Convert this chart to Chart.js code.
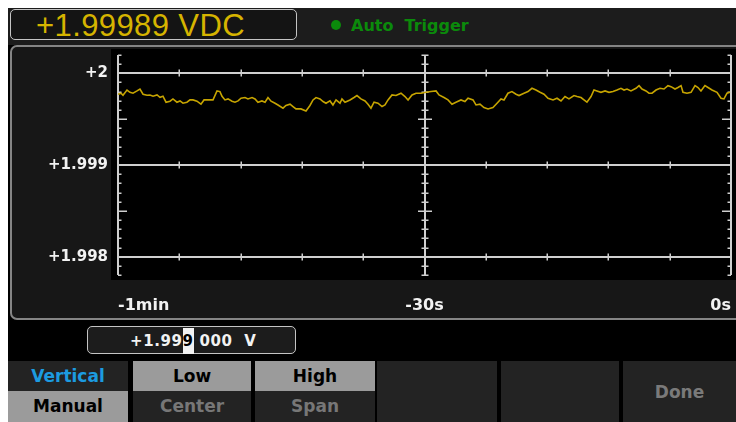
<!DOCTYPE html>
<html>
<head>
<meta charset="utf-8">
<script src="https://cdn.jsdelivr.net/npm/chart.js@4/dist/chart.umd.min.js"></script>
<style>
  html,body{margin:0;padding:0;}
  body{width:736px;height:422px;overflow:hidden;position:relative;background:#000;font-family:"DejaVu Sans",sans-serif;}
  .abs{position:absolute;}
  #header{left:0;top:0;width:736px;height:45px;background:#1c1c1c;}
  #reading{left:10px;top:9px;width:285px;height:29px;border:1.5px solid #c4c4c4;border-radius:5px;background:#141414;}
  #readingText{left:36px;top:9px;font-family:"Liberation Sans",Arial,sans-serif;font-size:31px;line-height:34px;color:#d6b400;white-space:pre;letter-spacing:0.4px;}
  #trig{left:331px;top:16px;font-weight:bold;font-size:16px;line-height:20px;color:#0b8a0b;white-space:pre;}
  #trig .dot{display:inline-block;width:10px;height:10px;border-radius:50%;background:#0b8a0b;margin-right:10px;vertical-align:1px;}
  #panel{left:10px;top:45px;width:740px;height:271px;border:2px solid #858585;border-radius:7px;background:#171717;}
  #plotbg{left:111px;top:49px;width:625px;height:231px;background:#000;}
  #inbox{left:87px;top:326px;width:207px;height:26px;border:1.5px solid #c4c4c4;border-radius:5px;background:#1c1c1c;}
  #inText{left:130px;top:328px;height:26px;font-weight:bold;font-size:15px;line-height:26px;color:#f2f2f2;white-space:pre;letter-spacing:0.6px;}
  #inText .cur{display:inline-block;background:#f2f2f2;color:#000;}
  .key{position:absolute;background:#232323;text-align:center;font-weight:bold;font-size:17px;white-space:pre;}
  .half{position:absolute;left:0;width:100%;height:30px;line-height:31px;}
  #white1{left:0;top:0;width:736px;height:8px;background:#fff;}
  #white2{left:0;top:0;width:8px;height:422px;background:#fff;}
  #chart{position:absolute;left:0;top:0;}
</style>
</head>
<body>
<div class="abs" id="header"></div>
<div class="abs" id="reading"></div>
<div class="abs" id="readingText">+1.99989 VDC</div>
<div class="abs" id="trig"><span class="dot"></span>Auto  Trigger</div>
<div class="abs" id="panel"></div>
<div class="abs" id="plotbg"></div>
<div class="abs" id="inbox"></div>
<div class="abs" id="inText">+1.99<span class="cur">9</span> 000  V</div>

<div class="key" style="left:8px;top:361px;width:120px;height:61px;">
  <div class="half" style="top:0;color:#1c9be0;background:#232323;">Vertical</div>
  <div class="half" style="top:30px;height:31px;color:#000;background:#9b9b9b;">Manual</div>
</div>
<div class="key" style="left:133px;top:361px;width:118px;height:61px;">
  <div class="half" style="top:0;color:#000;background:#9b9b9b;">Low</div>
  <div class="half" style="top:30px;height:31px;color:#777;background:#232323;">Center</div>
</div>
<div class="key" style="left:255px;top:361px;width:120px;height:61px;">
  <div class="half" style="top:0;color:#000;background:#9b9b9b;">High</div>
  <div class="half" style="top:30px;height:31px;color:#777;background:#232323;">Span</div>
</div>
<div class="key" style="left:377px;top:361px;width:120px;height:61px;"></div>
<div class="key" style="left:501px;top:361px;width:118px;height:61px;"></div>
<div class="key" style="left:623px;top:361px;width:113px;height:61px;line-height:62px;color:#7a7a7a;">Done</div>

<div class="abs" id="white1"></div>
<div class="abs" id="white2"></div>

<canvas id="chart" width="736" height="422"></canvas>

<script>
// ---- data ----
const timeSeconds = [
 -60.00,-59.71,-59.51,-59.12,-58.83,-58.53,-58.14,-57.85,-57.55,-57.16,-56.87,-56.57,-56.18,-55.89,-55.60,-55.30,
 -54.91,-54.62,-54.23,-53.93,-53.64,-53.25,-52.95,-52.66,-52.27,-51.88,-51.58,-51.19,-50.70,-50.31,-50.02,-49.82,
 -49.53,-49.23,-48.84,-48.55,-48.25,-47.96,-47.57,-47.28,-46.88,-46.59,-46.30,-45.91,-45.61,-45.32,
 -45.02,-44.63,-44.34,-43.85,-43.56,-43.16,-42.87,-42.58,-42.09,-41.60,-41.21,-40.91,-40.62,-40.23,-39.93,-39.64,
 -39.25,-38.96,-38.66,-38.27,-38.08,-37.78,-37.29,-36.90,-36.61,-36.22,-35.82,-35.53,-35.24,-34.94,-34.55,-34.16,
 -33.87,-33.57,-33.18,-32.79,-32.30,-31.91,-31.61,-31.22,-30.83,-30.34,
 -29.85,-29.36,-28.87,-28.58,-28.09,-27.70,-27.31,-26.92,-26.43,-26.04,-25.74,-25.25,-24.96,-24.57,-24.18,-23.78,
 -23.30,-22.90,-22.51,-22.22,-21.83,-21.44,-21.04,-20.75,-20.26,-19.87,-19.48,-19.09,-18.69,-18.30,-17.91,-17.42,
 -17.03,-16.64,-16.25,-15.86,-15.37,
 -15.07,-14.68,-14.39,-14.10,-13.70,-13.41,-13.12,-12.73,-12.33,-11.94,-11.55,-11.16,-10.77,-10.47,-10.18,-9.79,
 -9.30,-9.00,-8.71,-8.32,-8.03,-7.73,-7.34,-6.95,-6.56,-6.17,-5.87,-5.48,-5.19,-4.89,-4.70,-4.31,
 -3.91,-3.52,-3.23,-2.94,-2.55,-2.25,-1.86,-1.37,-0.98,-0.69,-0.39,-0.10
];
const voltage = [
 1.999772,1.999783,1.999761,1.999818,1.999793,1.999783,1.999808,1.999829,1.999772,1.999761,1.999764,1.999750,1.999764,1.999739,1.999750,1.999685,
 1.999696,1.999721,1.999685,1.999699,1.999674,1.999685,1.999710,1.999710,1.999696,1.999663,1.999710,1.999710,1.999710,1.999808,1.999801,1.999750,
 1.999710,1.999721,1.999696,1.999685,1.999699,1.999728,1.999736,1.999721,1.999736,1.999721,1.999685,1.999699,1.999685,1.999736,
 1.999696,1.999674,1.999655,1.999620,1.999649,1.999663,1.999638,1.999612,1.999612,1.999590,1.999649,1.999710,1.999736,1.999721,1.999692,1.999674,
 1.999699,1.999655,1.999710,1.999674,1.999721,1.999685,1.999710,1.999736,1.999758,1.999721,1.999699,1.999663,1.999620,1.999685,1.999674,1.999638,
 1.999655,1.999710,1.999764,1.999758,1.999783,1.999747,1.999710,1.999764,1.999783,1.999783,
 1.999793,1.999801,1.999808,1.999764,1.999736,1.999710,1.999663,1.999685,1.999710,1.999692,1.999728,1.999710,1.999655,1.999663,1.999627,1.999612,
 1.999627,1.999674,1.999721,1.999710,1.999783,1.999801,1.999772,1.999758,1.999783,1.999801,1.999837,1.999818,1.999793,1.999772,1.999728,1.999710,
 1.999728,1.999699,1.999747,1.999721,1.999758,
 1.999747,1.999736,1.999710,1.999685,1.999747,1.999818,1.999808,1.999793,1.999808,1.999793,1.999801,1.999818,1.999837,1.999818,1.999829,1.999808,
 1.999837,1.999866,1.999829,1.999808,1.999783,1.999783,1.999818,1.999837,1.999829,1.999866,1.999855,1.999829,1.999845,1.999866,1.999793,1.999783,
 1.999793,1.999866,1.999845,1.999808,1.999866,1.999845,1.999818,1.999793,1.999728,1.999721,1.999783,1.999793
];
const xTickValues = [-60, -30, 0];
const xTickLabels = ['-1min', '-30s', '0s'];
const yTickValues = [2, 1.999, 1.998];
const yTickLabels = ['+2', '+1.999', '+1.998'];
const yMin = 1.9978, yMax = 2.0002;
const yMinorStep = 0.0001;
const xMinorStep = 6;

// ---- reticle plugin (drawn through the chart's scales) ----
const reticle = {
  id: 'reticle',
  beforeDatasetsDraw(chart) {
    const {ctx} = chart;
    const x = chart.scales.x, y = chart.scales.y;
    const L = Math.round(x.getPixelForValue(x.min));
    const R = Math.round(x.getPixelForValue(x.max));
    const C = Math.round(x.getPixelForValue(xTickValues[1]));
    const T = Math.round(y.getPixelForValue(y.max));
    const B = Math.round(y.getPixelForValue(y.min));
    ctx.save();
    ctx.strokeStyle = '#cfcfcf';
    ctx.lineCap = 'butt';
    ctx.lineWidth = 2;
    yTickValues.forEach(v => {
      const py = Math.round(y.getPixelForValue(v));
      ctx.beginPath(); ctx.moveTo(L, py); ctx.lineTo(R, py); ctx.stroke();
    });
    ctx.lineWidth = 1.5;
    yTickValues.forEach(v => {
      const py = Math.round(y.getPixelForValue(v));
      for (let t = x.min; t <= x.max + 1e-9; t += xMinorStep) {
        const px = Math.round(x.getPixelForValue(t)) + 0.25;
        ctx.beginPath(); ctx.moveTo(px, py - 3.5); ctx.lineTo(px, py + 3.5); ctx.stroke();
      }
    });
    ctx.lineWidth = 2;
    [L, C, R].forEach(px => {
      ctx.beginPath(); ctx.moveTo(px, T); ctx.lineTo(px, B); ctx.stroke();
    });
    ctx.lineWidth = 1.5;
    const n = Math.round((y.max - y.min) / yMinorStep);
    for (let k = 0; k <= n; k++) {
      const v = y.min + k * yMinorStep;
      const code = Math.round(v * 1e4) % 10;
      if (code === 0) continue;
      const py = Math.round(y.getPixelForValue(v)) + 0.25;
      const long = code === 5;
      const lenSide = long ? 9 : 3.5;
      const lenC = long ? 7 : 3.5;
      ctx.beginPath(); ctx.moveTo(L, py); ctx.lineTo(L + lenSide, py); ctx.stroke();
      ctx.beginPath(); ctx.moveTo(R, py); ctx.lineTo(R - lenSide, py); ctx.stroke();
      ctx.beginPath(); ctx.moveTo(C - lenC, py); ctx.lineTo(C + lenC, py); ctx.stroke();
    }
    ctx.restore();
  }
};

new Chart(document.getElementById('chart'), {
  type: 'line',
  data: {
    datasets: [{
      data: timeSeconds.map((t, i) => ({x: t, y: voltage[i]})),
      borderColor: '#c6a400',
      borderWidth: 1.6,
      pointRadius: 0,
      tension: 0,
      fill: false
    }]
  },
  options: {
    responsive: false,
    animation: false,
    events: [],
    layout: {padding: {left: 0, top: 55, right: 5, bottom: 104}},
    plugins: {legend: {display: false}, tooltip: {enabled: false}},
    scales: {
      x: {
        type: 'linear', min: -60, max: 0,
        grid: {display: false, drawTicks: false},
        border: {display: false},
        afterBuildTicks: s => { s.ticks = xTickValues.map(v => ({value: v})); },
        afterFit: s => { s.height = 43; s.paddingLeft = 0; s.paddingRight = 0; },
        ticks: {
          autoSkip: false, maxRotation: 0, align: 'inner', padding: 21,
          color: '#f2f2f2',
          font: {family: 'DejaVu Sans', size: 16, weight: 'bold'},
          callback: v => { const i = xTickValues.indexOf(v); return i >= 0 ? xTickLabels[i] : ''; }
        }
      },
      y: {
        type: 'linear', min: yMin, max: yMax,
        grid: {display: false, drawTicks: false},
        border: {display: false},
        afterBuildTicks: s => { s.ticks = yTickValues.map(v => ({value: v})); },
        afterFit: s => { s.width = 118; s.paddingTop = 0; s.paddingBottom = 0; },
        ticks: {
          autoSkip: false, padding: 10,
          color: '#f2f2f2',
          font: {family: 'DejaVu Sans', size: 15, weight: 'bold'},
          callback: v => { const i = yTickValues.findIndex(w => Math.abs(w - v) < 1e-9); return i >= 0 ? yTickLabels[i] : ''; }
        }
      }
    }
  },
  plugins: [reticle]
});
</script>
</body>
</html>
